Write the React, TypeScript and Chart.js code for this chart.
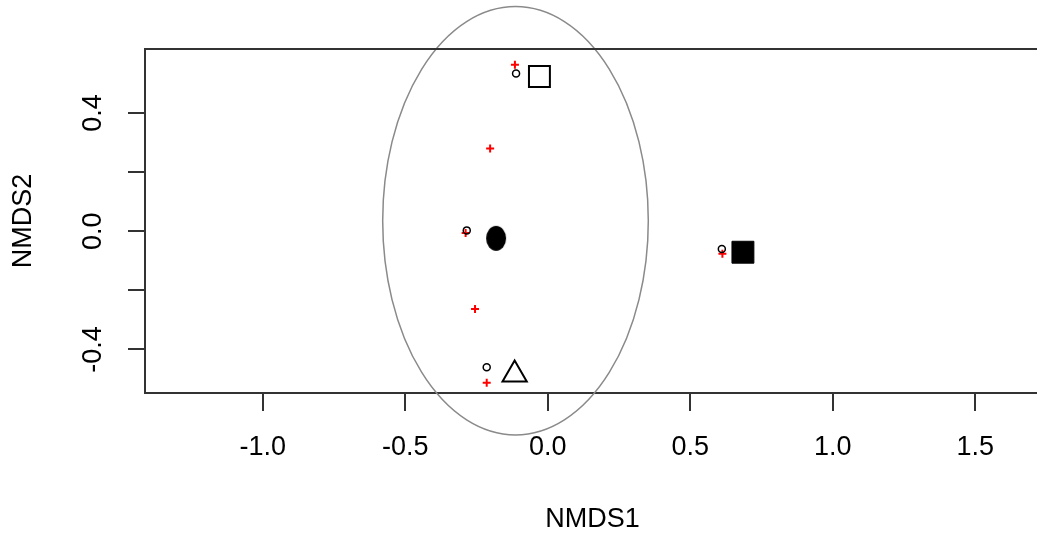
import React, { useEffect, useRef } from 'react';
import { Chart, registerables } from 'chart.js';

Chart.register(...registerables);

// ---- data ----
const xTicks = [-1.0, -0.5, 0.0, 0.5, 1.0, 1.5];
const xTickLabels = ['-1.0', '-0.5', '0.0', '0.5', '1.0', '1.5'];
const yTicks = [-0.4, -0.2, 0.0, 0.2, 0.4];
const yTickLabels = ['-0.4', '', '0.0', '', '0.4'];
const xTitle = 'NMDS1';
const yTitle = 'NMDS2';
const xRange = [-1.413, 1.7274];
const yRange = [-0.5475, 0.617];

// red "+" (species scores)
const speciesX = [-0.115, -0.202, -0.288, -0.255, -0.214, 0.613];
const speciesY = [0.564, 0.28, -0.006, -0.263, -0.513, -0.076];

// small open circles (site scores)
const siteX = [-0.111, -0.284, -0.214, 0.611];
const siteY = [0.534, 0.003, -0.46, -0.06];

// group centroids
const openSquareX = [-0.029];
const openSquareY = [0.524];
const filledCircleX = [-0.181];
const filledCircleY = [-0.024];
const triangleX = [-0.116];
const triangleY = [-0.485];
const filledSquareX = [0.685];
const filledSquareY = [-0.071];

// ellipse (center and semi-axes, data units)
const ellipseCenter = [-0.113, 0.0356];
const ellipseRadii = [0.466, 0.725];

const pts = (xs: number[], ys: number[]) => xs.map((x, i) => ({ x, y: ys[i] }));

const FONT = '27px "Liberation Sans", Arial, sans-serif';
const AXIS_COLOR = '#333333';

export default function App() {
  const ref = useRef<HTMLCanvasElement | null>(null);

  useEffect(() => {
    if (!ref.current) return;

    const oval = document.createElement('canvas');
    oval.width = 22;
    oval.height = 27;
    const oc = oval.getContext('2d')!;
    oc.fillStyle = '#000';
    oc.beginPath();
    oc.ellipse(11, 13.5, 10, 12.5, 0, 0, Math.PI * 2);
    oc.fill();

    const decor = {
      id: 'decor',
      afterDatasetsDraw(chart: any) {
        const { ctx, scales } = chart;
        const xs = scales.x;
        const ys = scales.y;
        const cx = xs.getPixelForValue(ellipseCenter[0]);
        const cy = ys.getPixelForValue(ellipseCenter[1]);
        const rx = Math.abs(xs.getPixelForValue(ellipseCenter[0] + ellipseRadii[0]) - cx);
        const ry = Math.abs(ys.getPixelForValue(ellipseCenter[1] + ellipseRadii[1]) - cy);
        ctx.save();
        ctx.strokeStyle = '#8a8a8a';
        ctx.lineWidth = 1.5;
        ctx.beginPath();
        ctx.ellipse(cx, cy, rx, ry, 0, 0, Math.PI * 2);
        ctx.stroke();
        ctx.restore();
      },
      afterDraw(chart: any) {
        const { ctx, chartArea, scales } = chart;
        const xs = scales.x;
        const ys = scales.y;
        ctx.save();
        ctx.strokeStyle = AXIS_COLOR;
        ctx.lineWidth = 2;
        ctx.beginPath();
        ctx.moveTo(chartArea.left - 1, chartArea.top);
        ctx.lineTo(chartArea.right, chartArea.top);
        ctx.moveTo(chartArea.right, chartArea.top);
        ctx.lineTo(chartArea.right, chartArea.bottom);
        ctx.stroke();

        ctx.fillStyle = '#000';
        ctx.font = FONT;
        ctx.textAlign = 'center';
        ctx.textBaseline = 'middle';
        xTicks.forEach((v, i) => {
          ctx.fillText(xTickLabels[i], xs.getPixelForValue(v), 448);
        });
        ctx.fillText(xTitle, (chartArea.left + chartArea.right) / 2, 520);

        yTicks.forEach((v, i) => {
          if (!yTickLabels[i]) return;
          ctx.save();
          ctx.translate(94, ys.getPixelForValue(v));
          ctx.rotate(-Math.PI / 2);
          ctx.fillText(yTickLabels[i], 0, 0);
          ctx.restore();
        });
        ctx.save();
        ctx.translate(24, (chartArea.top + chartArea.bottom) / 2);
        ctx.rotate(-Math.PI / 2);
        ctx.fillText(yTitle, 0, 0);
        ctx.restore();
        ctx.restore();
      },
    };

    const chart = new Chart(ref.current, {
      type: 'scatter',
      data: {
        datasets: [
          {
            data: pts(siteX, siteY),
            pointStyle: 'circle',
            pointRadius: 3.5,
            borderColor: '#000',
            backgroundColor: 'rgba(0,0,0,0)',
            borderWidth: 1.5,
          },
          {
            data: pts(speciesX, speciesY),
            pointStyle: 'cross',
            pointRadius: 4,
            borderColor: '#ff0000',
            backgroundColor: '#ff0000',
            borderWidth: 2,
          },
          {
            data: pts(openSquareX, openSquareY),
            pointStyle: 'rect',
            pointRadius: 14.8,
            borderColor: '#000',
            backgroundColor: 'rgba(0,0,0,0)',
            borderWidth: 2,
          },
          {
            data: pts(filledCircleX, filledCircleY),
            pointStyle: oval as any,
            pointRadius: 12,
          },
          {
            data: pts(triangleX, triangleY),
            pointStyle: 'triangle',
            pointRadius: 14,
            borderColor: '#000',
            backgroundColor: 'rgba(0,0,0,0)',
            borderWidth: 2,
          },
          {
            data: pts(filledSquareX, filledSquareY),
            pointStyle: 'rect',
            pointRadius: 15.5,
            borderColor: '#000',
            backgroundColor: '#000',
            borderWidth: 1,
          },
        ] as any,
      },
      options: {
        animation: false,
        responsive: false,
        devicePixelRatio: 1,
        layout: { autoPadding: false, padding: { top: 49, right: 5, left: 0, bottom: 0 } },
        plugins: {
          legend: { display: false },
          tooltip: { enabled: false },
          title: { display: false },
        },
        elements: { point: { hoverRadius: 0 } },
        scales: {
          x: {
            type: 'linear',
            min: xRange[0],
            max: xRange[1],
            afterBuildTicks: (s: any) => {
              s.ticks = xTicks.map((v) => ({ value: v }));
            },
            afterFit: (s: any) => {
              s.height = 144;
            },
            ticks: { display: false },
            grid: {
              drawOnChartArea: false,
              drawTicks: true,
              tickLength: 18,
              tickWidth: 2,
              tickColor: AXIS_COLOR,
              color: AXIS_COLOR,
              lineWidth: 2,
            },
            border: { display: true, color: AXIS_COLOR, width: 2 },
          },
          y: {
            type: 'linear',
            min: yRange[0],
            max: yRange[1],
            afterBuildTicks: (s: any) => {
              s.ticks = yTicks.map((v) => ({ value: v }));
            },
            afterFit: (s: any) => {
              s.width = 145;
            },
            ticks: { display: false },
            grid: {
              drawOnChartArea: false,
              drawTicks: true,
              tickLength: 17,
              tickWidth: 2,
              tickColor: AXIS_COLOR,
              color: AXIS_COLOR,
              lineWidth: 2,
            },
            border: { display: true, color: AXIS_COLOR, width: 2 },
          },
        },
      } as any,
      plugins: [decor],
    });

    return () => chart.destroy();
  }, []);

  return (
    <div
      style={{
        position: 'fixed',
        left: 0,
        top: 0,
        width: 1037,
        height: 537,
        overflow: 'hidden',
        background: '#fff',
      }}
    >
      <canvas ref={ref} width={1045} height={537} style={{ display: 'block' }} />
    </div>
  );
}
